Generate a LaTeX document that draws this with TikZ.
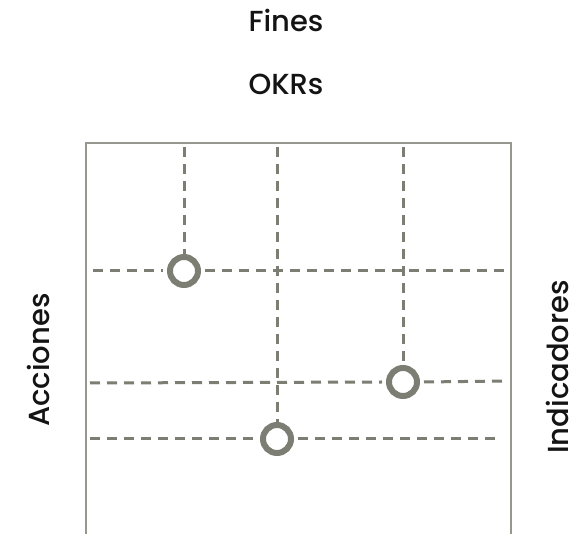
\documentclass[tikz,border=0pt]{standalone}
\usepackage{fontspec}
\setmainfont{Poppins}[UprightFont=* Medium]
\begin{document}
\begin{tikzpicture}[x=1pt,y=-1pt,
  grid/.style={draw=olivegray, line width=3pt, dash pattern=on 10pt off 7pt},
  frame/.style={draw=framegray, line width=1.6pt},
  ring/.style={circle, draw=olivegray, line width=6pt, fill=white, minimum size=28pt, inner sep=0pt, outer sep=3pt},
  lbl/.style={font=\fontsize{29}{32}\selectfont, text=black!92}]
\definecolor{olivegray}{HTML}{7C7E73}
\definecolor{framegray}{HTML}{96978E}
\useasboundingbox (0,0) rectangle (579,534);
\path[fill=white] (0,0) rectangle (579,534);
\draw[frame] (86,534) -- (86,143) -- (511,143) -- (511,534);
% circles
\node[ring] (c1) at (184,271) {};
\node[ring] (c2) at (403,382) {};
\node[ring] (c3) at (277,439) {};
% guide ends
\coordinate (t1) at (184,147);
\coordinate (t2) at (403,147);
\coordinate (t3) at (277,147);
\coordinate (l1) at (93,271);
\coordinate (r1) at (505,271);
\coordinate (l2) at (90,383);
\coordinate (r2) at (505,381);
\coordinate (l3) at (90,439);
\coordinate (r3) at (500,439);
\draw[grid] (t1) -- ([yshift=-4pt]c1.north);
\draw[grid] (t2) -- ([yshift=-4pt]c2.north);
\draw[grid] (t3) -- ([yshift=-4pt]c3.north);
\draw[grid] (l1) -- ([xshift=-4pt]c1.west);
\draw[grid] ([xshift=4pt]c1.east) -- (r1);
\draw[grid] (l2) -- ([xshift=-4pt]c2.west);
\draw[grid] ([xshift=4pt]c2.east) -- (r2);
\draw[grid] (l3) -- ([xshift=-4pt]c3.west);
\draw[grid] ([xshift=4pt]c3.east) -- (r3);
\node[lbl, anchor=base] (fines) at (286,32) {Fines};
\node[lbl, anchor=base] (okrs) at (286,95) {OKRs};
\node[lbl, rotate=90] (acc) at (38,360) {Acciones};
\node[lbl, rotate=90] (ind) at (557,367) {Indicadores};
\end{tikzpicture}
\end{document}
